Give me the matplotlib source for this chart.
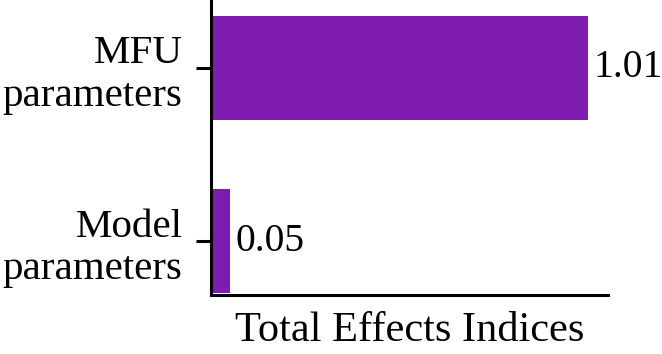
import matplotlib
matplotlib.use("Agg")
import matplotlib.pyplot as plt

categories = ["Model\nparameters", "MFU\nparameters"]
values = [0.05, 1.01]
value_labels = ["0.05", "1.01"]
xlabel = "Total Effects Indices"

plt.rcParams['font.family'] = ['Liberation Serif', 'DejaVu Serif']
plt.rcParams['font.size'] = 29.5

fig = plt.figure(figsize=(6.62, 3.54), dpi=100)
ax = fig.add_axes([211/662, 1 - 295/354, (608 - 211)/662, 295/354])

color = "#7e1bb0"
ypos = list(range(len(categories)))
ax.barh(ypos, values, height=0.6, color=color)
for y, v, lab in zip(ypos, values, value_labels):
    ax.annotate(lab, (v, y), xytext=(4, 0), textcoords="offset points",
                ha="left", va="center", fontsize=28.5)

ax.set_yticks(ypos)
ax.set_yticklabels(categories)
ax.set_xticks([])
ax.set_xlim(0, 1.064)
ax.set_ylim(-0.31, 1.39)
ax.set_xlabel(xlabel, labelpad=12, fontsize=30.5)

for s in ["top", "right"]:
    ax.spines[s].set_visible(False)
for s in ["left", "bottom"]:
    ax.spines[s].set_linewidth(2.2)
ax.tick_params(axis="y", length=10.5, width=2.2, pad=10)

fig.savefig("out.png", dpi=100)
